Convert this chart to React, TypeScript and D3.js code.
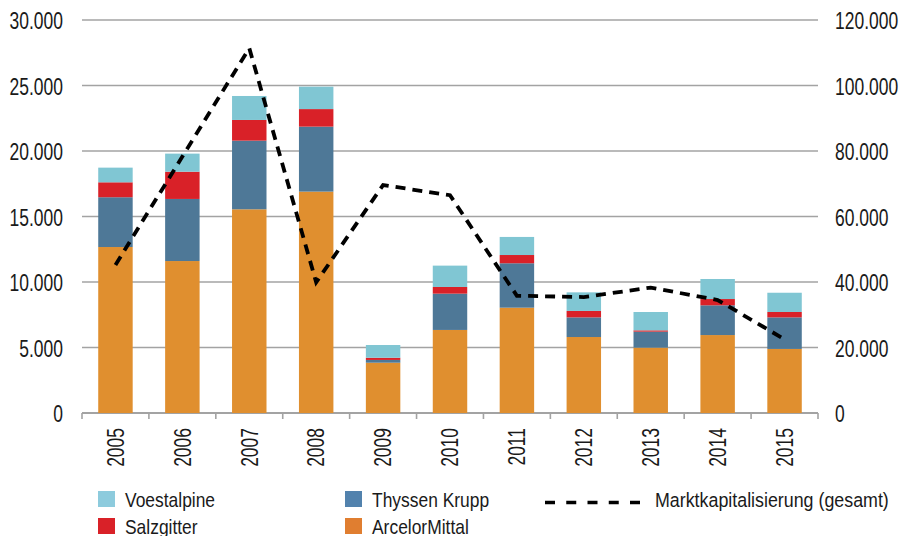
import React from "react";
import * as d3 from "d3";

const years = ["2005", "2006", "2007", "2008", "2009", "2010", "2011", "2012", "2013", "2014", "2015"];
const arcelorMittal = [12670, 11600, 15550, 16900, 3840, 6340, 8040, 5800, 4990, 5950, 4890];
const thyssenKrupp = [3800, 4740, 5240, 4960, 210, 2770, 3390, 1500, 1220, 2270, 2410];
const salzgitter = [1140, 2080, 1580, 1340, 170, 510, 630, 490, 100, 480, 410];
const voestalpine = [1120, 1380, 1830, 1710, 970, 1630, 1380, 1420, 1400, 1530, 1470];
const marketCap = [45200, 78300, 111400, 39900, 69600, 66500, 35800, 35400, 38300, 34500, 22500];

const leftTicks = [0, 5000, 10000, 15000, 20000, 25000, 30000];
const rightTicks = [0, 20000, 40000, 60000, 80000, 100000, 120000];

const seriesKeys = ["arcelor", "thyssen", "salzgitter", "voest"];
const colors: Record<string, string> = {
  arcelor: "#e08f2f",
  thyssen: "#4e7897",
  salzgitter: "#d92128",
  voest: "#80c6d3",
};

// no condensed font installed -> squeeze Liberation Sans horizontally
const FONT = "'Liberation Sans', Arial, sans-serif";
const fmt = (v: number) => (v === 0 ? "0" : d3.format(",")(v).replace(/,/g, "."));

const NarrowText = ({ x, y, rotate = 0, anchor = "start", size = 23, squeeze = 0.76, dy = "0", children }: any) => (
  <text
    transform={`translate(${x},${y}) rotate(${rotate}) scale(${squeeze},1)`}
    textAnchor={anchor}
    dy={dy}
    fontSize={size}
    fill="#1a1a1a"
  >
    {children}
  </text>
);

export default function App() {
  const width = 901;
  const height = 536;
  const margin = { left: 82, right: 83, top: 20, bottom: 123 };
  const plotRight = width - margin.right;
  const plotBottom = height - margin.bottom;

  const x = d3.scaleBand<string>()
    .domain(years)
    .range([margin.left, plotRight])
    .paddingInner(0.485)
    .paddingOuter(0.2425);
  const yLeft = d3.scaleLinear().domain([0, 30000]).range([plotBottom, margin.top]);
  const yRight = d3.scaleLinear().domain([0, 120000]).range([plotBottom, margin.top]);

  const rows = years.map((year, i) => ({
    year,
    arcelor: arcelorMittal[i],
    thyssen: thyssenKrupp[i],
    salzgitter: salzgitter[i],
    voest: voestalpine[i],
  }));
  const stacked = d3.stack<any>().keys(seriesKeys)(rows);

  const step = x.step();
  const bandStart = (i: number) => margin.left + i * step;

  const line = d3.line<number>()
    .x((_, i) => (x(years[i]) as number) + x.bandwidth() / 2)
    .y((d) => yRight(d));

  // legend
  const legendSquares = [
    { label: "Voestalpine", color: "#8dcbdd", x: 98, y: 491 },
    { label: "Salzgitter", color: "#d92128", x: 98, y: 518 },
    { label: "Thyssen Krupp", color: "#5282ad", x: 345, y: 491 },
    { label: "ArcelorMittal", color: "#e07e30", x: 345, y: 518 },
  ];

  return (
    <svg
      width={width}
      height={height}
      style={{ position: "absolute", left: 0, top: 0, background: "#fff" }}
      fontFamily={FONT}
    >
      {/* gridlines */}
      {leftTicks.map((t) => (
        <line
          key={"g" + t}
          x1={margin.left}
          x2={plotRight}
          y1={yLeft(t)}
          y2={yLeft(t)}
          stroke="#a3a3a3"
          strokeWidth={t === 0 ? 2 : 1.6}
        />
      ))}
      {/* x ticks */}
      {d3.range(years.length + 1).map((i) => (
        <line
          key={"xt" + i}
          x1={bandStart(i)}
          x2={bandStart(i)}
          y1={plotBottom}
          y2={plotBottom + 6}
          stroke="#a3a3a3"
          strokeWidth={1.6}
        />
      ))}

      {/* bars */}
      {stacked.map((s) => (
        <g key={s.key} fill={colors[s.key]}>
          {s.map((d, i) => (
            <rect
              key={i}
              x={x(years[i])}
              width={x.bandwidth()}
              y={yLeft(d[1])}
              height={yLeft(d[0]) - yLeft(d[1])}
            />
          ))}
        </g>
      ))}

      {/* market cap line */}
      <path
        d={line(marketCap) || ""}
        fill="none"
        stroke="#000"
        strokeWidth={3.8}
        strokeDasharray="10 7"
      />

      {/* left axis labels */}
      {leftTicks.map((t) => (
        <NarrowText key={"l" + t} x={63} y={yLeft(t) + 1} dy="0.36em" anchor="end">
          {fmt(t)}
        </NarrowText>
      ))}
      {/* right axis labels */}
      {rightTicks.map((t) => (
        <NarrowText key={"r" + t} x={835} y={yRight(t) + 1} dy="0.36em">
          {fmt(t)}
        </NarrowText>
      ))}
      {/* year labels */}
      {years.map((yr) => (
        <NarrowText
          key={yr}
          x={(x(yr) as number) + x.bandwidth() / 2}
          y={428}
          rotate={-90}
          dy="0.36em"
          anchor="end"
        >
          {yr}
        </NarrowText>
      ))}

      {/* legend */}
      {legendSquares.map((l) => (
        <g key={l.label}>
          <rect x={l.x} y={l.y} width={17} height={16} fill={l.color} />
          <NarrowText x={l.x + 27} y={l.y + 15.5} size={20.5} squeeze={0.85}>
            {l.label}
          </NarrowText>
        </g>
      ))}
      <line x1={545} x2={640} y1={502.5} y2={502.5} stroke="#000" strokeWidth={3.5} strokeDasharray="10 11.25" />
      <NarrowText x={655} y={506.5} size={20.5} squeeze={0.87}>
        Marktkapitalisierung (gesamt)
      </NarrowText>
    </svg>
  );
}
